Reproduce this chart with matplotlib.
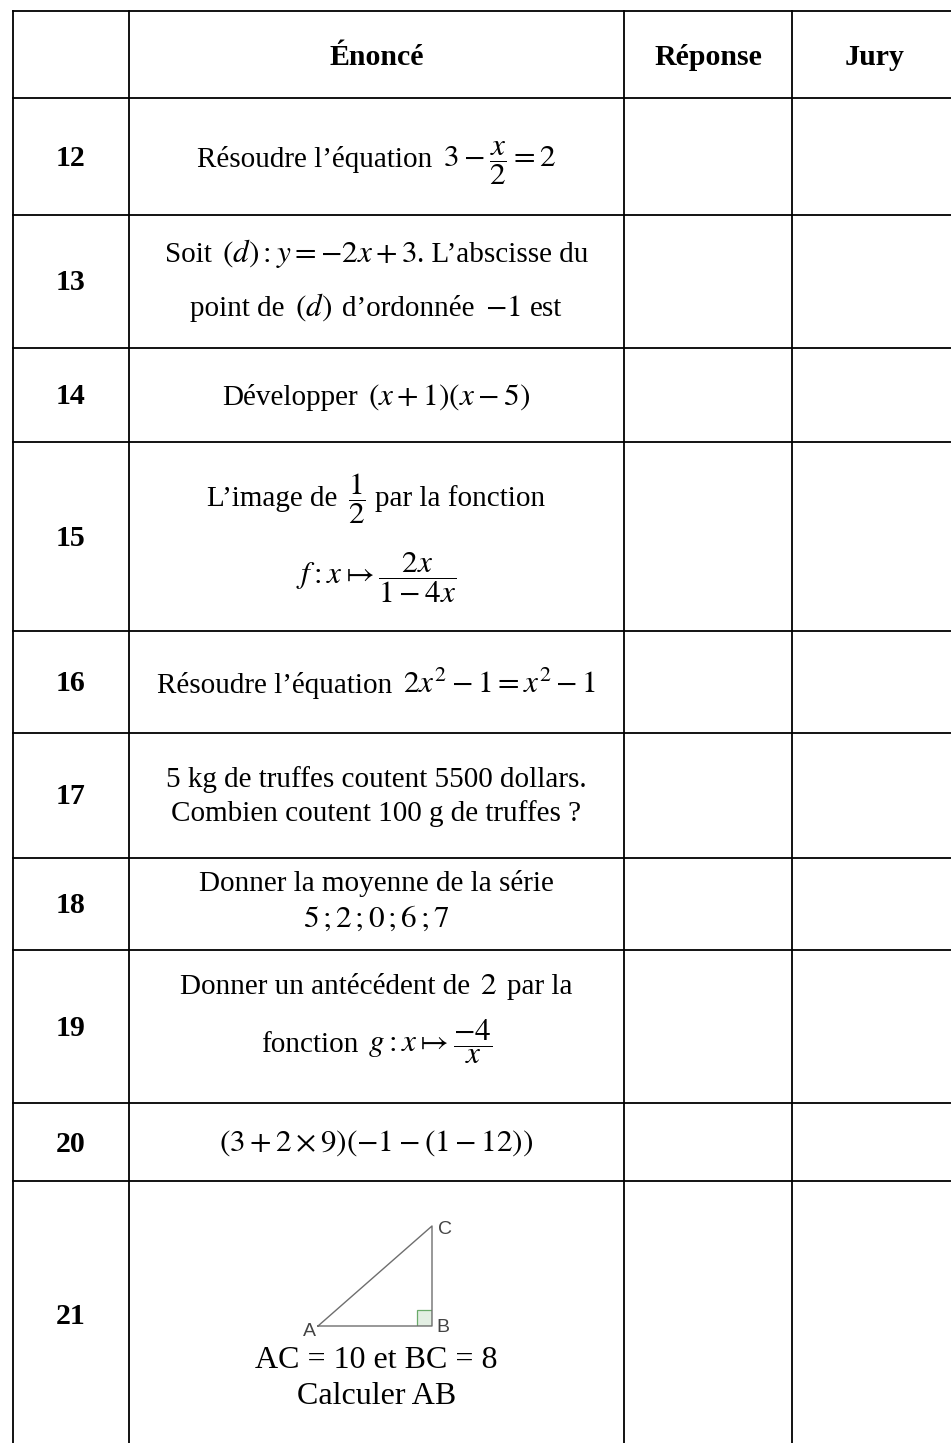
import matplotlib.pyplot as plt
from matplotlib.patches import Rectangle

plt.rcParams['font.family'] = ['Liberation Serif', 'DejaVu Serif']
plt.rcParams['mathtext.fontset'] = 'stix'

# table content: each line is a list of pieces, pieces in $...$ are maths
headers = ['', 'Énoncé', 'Réponse', 'Jury']
row_labels = ['12', '13', '14', '15', '16', '17', '18', '19', '20', '21']
enonce = [
    [['Résoudre l’équation', r'$3-\dfrac{x}{2}=2$']],
    [['Soit', r'$(d):y=-2x+3$', '. L’abscisse du'],
     ['point de', r'$(d)$', 'd’ordonnée', r'$-1$', 'est']],
    [['Développer', r'$(x+1)(x-5)$']],
    [['L’image de', r'$\dfrac{1}{2}$', 'par la fonction'],
     [r'$f:x\mapsto\dfrac{2x}{1-4x}$']],
    [['Résoudre l’équation', r'$2x^2-1=x^2-1$']],
    [['5 kg de truffes coutent 5500 dollars.'],
     ['Combien coutent 100 g de truffes ?']],
    [['Donner la moyenne de la série'], [r'$5\,;2\,;0\,;6\,;7$']],
    [['Donner un antécédent de', r'$2$', 'par la'],
     ['fonction', r'$g:x\mapsto\dfrac{-4}{x}$']],
    [[r'$(3+2\times9)(-1-(1-12))$']],
    [['AC = 10 et BC = 8'], ['Calculer AB']],
]

# triangle of question 21 (right angle at B)
tri_names = ['A', 'B', 'C']
tri_x = [0.0, 1.14, 1.14]
tri_y = [0.0, 0.0, 1.0]

# layout (pixels)
W, H = 951, 1443
col_edges = [13, 129, 624, 792, 958]
row_edges = [11, 97.5, 214.5, 347.5, 441.5, 631, 732.5, 857.5, 949.5, 1103, 1181, 1449]
baselines = [[167], [262, 316], [405], [506, 584], [693], [787, 821], [891, 927],
             [994, 1052], [1151], [1368, 1404]]
gap = 10

fig = plt.figure(figsize=(W / 100, H / 100), dpi=100)
ax = fig.add_axes([0, 0, 1, 1])
ax.set_xlim(0, W)
ax.set_ylim(H, 0)
ax.axis('off')
renderer = fig.canvas.get_renderer()

lw = 1.3
for x in col_edges:
    ax.plot([x, x], [row_edges[0], H + 5], color='black', lw=lw, clip_on=False)
for y in row_edges[:-1]:
    ax.plot([col_edges[0], W + 10], [y, y], color='black', lw=lw, clip_on=False)


def put_line(cx, y, pieces, fs, math_fs):
    arts, gaps = [], []
    for k, p in enumerate(pieces):
        size = math_fs if p.startswith('$') else fs
        arts.append(ax.text(0, y, p, ha='left', va='baseline', fontsize=size))
        gaps.append(0 if k == 0 or p.startswith('.') else gap)
    widths = [a.get_window_extent(renderer).width for a in arts]
    x = cx - (sum(widths) + sum(gaps)) / 2
    for a, w, g in zip(arts, widths, gaps):
        x += g
        a.set_x(x)
        x += w


# header
hy = (row_edges[0] + row_edges[1]) / 2 + 3
for i, h in enumerate(headers):
    cx = (col_edges[i] + col_edges[i + 1]) / 2
    ax.text(cx, hy, h, ha='center', va='center', fontsize=21.5, fontweight='bold')

cx0 = (col_edges[0] + col_edges[1]) / 2
cx1 = (col_edges[1] + col_edges[2]) / 2
for i, lab in enumerate(row_labels):
    ry = (row_edges[i + 1] + row_edges[i + 2]) / 2 + 2
    ax.text(cx0, ry, lab, ha='center', va='center', fontsize=21.5, fontweight='bold')
    fs = 23 if lab == '21' else 21
    for pieces, y in zip(enonce[i], baselines[i]):
        put_line(cx1, y, pieces, fs, 22.5)

# triangle drawing
tax = fig.add_axes([318 / W, 1 - 1326 / H, 114 / W, 100 / H])
tax.set_xlim(0, 1.14)
tax.set_ylim(0, 1.0)
tax.axis('off')
tax.add_patch(Rectangle((1.14 - 0.15, 0), 0.15, 0.16, facecolor='#e3efe3',
                        edgecolor='#6aaa6a', lw=0.9))
tax.plot(tri_x + [tri_x[0]], tri_y + [tri_y[0]], color='#6e6e6e', lw=1.0,
         clip_on=False)
offs = [(-0.09, -0.05), (0.11, -0.01), (0.13, -0.04)]
for n, x, y, (dx, dy) in zip(tri_names, tri_x, tri_y, offs):
    tax.text(x + dx, y + dy, n, ha='center', va='center', fontsize=14,
             color='#444444', family='Liberation Sans')

fig.savefig('out.png', dpi=100)
